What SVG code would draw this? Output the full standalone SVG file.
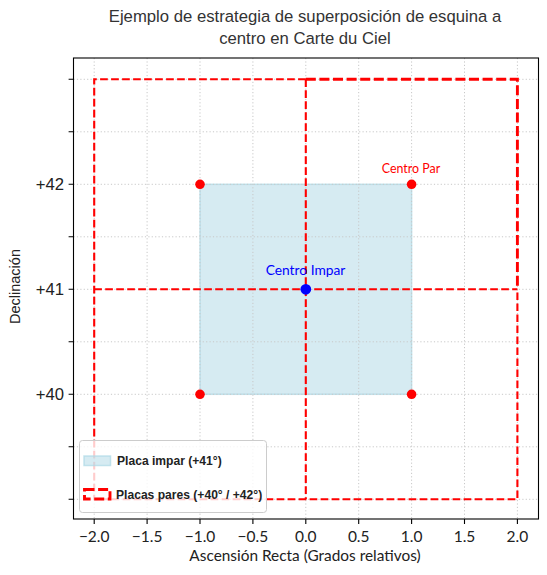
<svg xmlns="http://www.w3.org/2000/svg" width="547" height="575" viewBox="0 0 547 575">
<style>
.grid{stroke:#c8c8c8;stroke-width:1;stroke-dasharray:1.2 2.2;fill:none}
.plate{fill:none;stroke:#ff0000;stroke-width:2.1;stroke-dasharray:7.7 3.3}
.plate2{fill:none;stroke:#ff0000;stroke-width:2.9;stroke-dasharray:10 3.6}
.tick{stroke:#000;stroke-width:1.1}
.ytl{font-family:"Liberation Sans",Arial,sans-serif;font-size:16.7px;fill:#222;text-anchor:end}
.xtl{font-family:Lato,"Liberation Sans",sans-serif;font-size:15.5px;fill:#222;text-anchor:middle}
.lbl{font-family:Lato,"Liberation Sans",sans-serif;font-size:15.4px;fill:#222;text-anchor:middle}
.leg{font-family:"Liberation Sans",Arial,sans-serif;font-size:12.1px;font-weight:bold;fill:#222}
.dotr{fill:#ff0000}
</style>
<rect width="547" height="575" fill="#fff"/>
<g id="title">
<text x="305" y="22" font-family="'Liberation Sans',Arial,sans-serif" font-size="16.7" fill="#333" text-anchor="middle">Ejemplo de estrategia de superposición de esquina a</text>
<text x="305" y="44" font-family="'Liberation Sans',Arial,sans-serif" font-size="16.7" fill="#333" text-anchor="middle">centro en Carte du Ciel</text>
</g>
<g id="placa-impar">
<rect x="200" y="184.3" width="211.6" height="210" fill="#add8e6" fill-opacity="0.5" stroke="#add8e6" stroke-opacity="0.7" stroke-width="1.5"/>
</g>
<g id="grid">
<path class="grid" d="M94.2 58V519M147.1 58V519M200 58V519M252.9 58V519M305.8 58V519M358.7 58V519M411.6 58V519M464.5 58V519M517.4 58V519"/>
<path class="grid" d="M73.5 79.3H538.5M73.5 131.8H538.5M73.5 184.3H538.5M73.5 236.8H538.5M73.5 289.3H538.5M73.5 341.8H538.5M73.5 394.3H538.5M73.5 446.8H538.5M73.5 499.3H538.5"/>
</g>
<g id="connectors">
<path id="placas-borde" class="plate" d="M305.8 79.3H94.2V499.3H517.4V289.3"/>
<path id="placas-vertical" class="plate" d="M305.8 79.3V499.3"/>
<path id="placas-horizontal" class="plate" d="M94.2 289.3H517.4"/>
<path id="placa-sup-der" class="plate2" d="M305.8 79.3H517.4V289.3"/>
</g>
<g id="centros">
<circle class="dotr" cx="200" cy="184.3" r="4.8"/>
<circle class="dotr" cx="411.6" cy="184.3" r="4.8"/>
<circle class="dotr" cx="200" cy="394.3" r="4.8"/>
<circle class="dotr" cx="411.6" cy="394.3" r="4.8"/>
<circle cx="305.8" cy="289.3" r="5.4" fill="#0000ff"/>
<text x="411" y="173" font-family="Lato,'Liberation Sans',sans-serif" font-size="12.4" fill="#ff0000" text-anchor="middle">Centro Par</text>
<text x="305.5" y="275" font-family="Lato,'Liberation Sans',sans-serif" font-size="13.8" fill="#0000ff" text-anchor="middle">Centro Impar</text>
</g>
<g id="axes">
<rect x="73.5" y="58" width="465" height="461" fill="none" stroke="#000" stroke-width="1.1"/>
<path class="tick" d="M73.5 79.3H68.6M73.5 131.8H68.6M73.5 184.3H68.6M73.5 236.8H68.6M73.5 289.3H68.6M73.5 341.8H68.6M73.5 394.3H68.6M73.5 446.8H68.6M73.5 499.3H68.6"/>
<path class="tick" d="M94.2 519V523.9M147.1 519V523.9M200 519V523.9M252.9 519V523.9M305.8 519V523.9M358.7 519V523.9M411.6 519V523.9M464.5 519V523.9M517.4 519V523.9"/>
<text class="ytl" x="64" y="190.3">+42</text>
<text class="ytl" x="64" y="295.3">+41</text>
<text class="ytl" x="64" y="400.3">+40</text>
<text class="xtl" x="94.2" y="541.5">−2.0</text>
<text class="xtl" x="147.1" y="541.5">−1.5</text>
<text class="xtl" x="200" y="541.5">−1.0</text>
<text class="xtl" x="252.9" y="541.5">−0.5</text>
<text class="xtl" x="305.8" y="541.5">0.0</text>
<text class="xtl" x="358.7" y="541.5">0.5</text>
<text class="xtl" x="411.6" y="541.5">1.0</text>
<text class="xtl" x="464.5" y="541.5">1.5</text>
<text class="xtl" x="517.4" y="541.5">2.0</text>
<text class="lbl" x="305" y="561">Ascensión Recta (Grados relativos)</text>
<text font-family="'Liberation Sans',Arial,sans-serif" font-size="14.5" fill="#222" text-anchor="middle" transform="translate(19.5 286.5) rotate(-90)">Declinación</text>
</g>
<g id="legend">
<rect x="79.5" y="440.5" width="187" height="72" rx="3" fill="#fff" fill-opacity="0.8" stroke="#cccccc" stroke-width="1"/>
<rect x="84" y="456" width="26.5" height="9.5" fill="#add8e6" fill-opacity="0.5" stroke="#add8e6" stroke-opacity="0.7" stroke-width="1.5"/>
<text class="leg" x="117" y="464.5">Placa impar (+41°)</text>
<rect x="84.5" y="489.5" width="25.5" height="9.5" fill="none" stroke="#ff0000" stroke-width="2.9" stroke-dasharray="10 3.6"/>
<text class="leg" x="116" y="498.5">Placas pares (+40° / +42°)</text>
</g>
</svg>
